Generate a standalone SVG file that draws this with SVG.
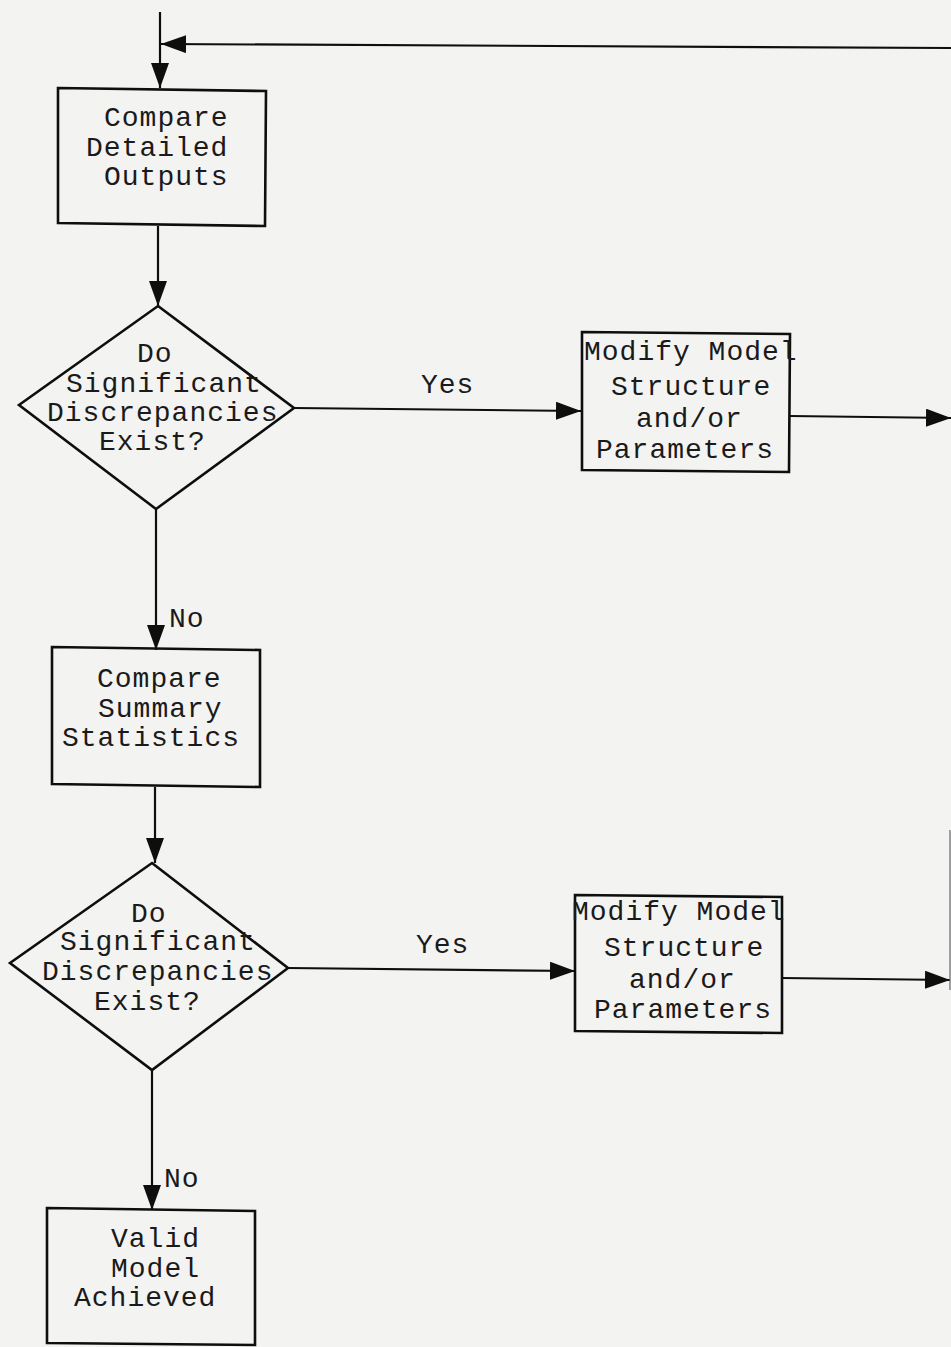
<svg xmlns="http://www.w3.org/2000/svg" width="951" height="1347" viewBox="0 0 951 1347">
<style>
.bg{fill:#f3f3f2}
.shape{fill:none;stroke:#0e0e0e;stroke-width:2.6;stroke-linejoin:miter}
.conn{fill:none;stroke:#0e0e0e;stroke-width:2.2}
.t{font-family:"Liberation Mono","DejaVu Sans Mono",monospace;font-size:28px;letter-spacing:1px;fill:#1a1a1a}
</style>
<defs>
<marker id="arr" markerUnits="userSpaceOnUse" markerWidth="26" markerHeight="20" refX="25" refY="9" orient="auto">
<path d="M0,0 L25,9 L0,18 Z" fill="#0e0e0e"/>
</marker>
</defs>
<rect class="bg" x="0" y="0" width="951" height="1347"/>
<g id="connectors">
<path class="conn" d="M160 12 V88" marker-end="url(#arr)"/>
<path class="conn" d="M951 48 L161 44" marker-end="url(#arr)"/>
<path class="conn" d="M158 226 V306" marker-end="url(#arr)"/>
<path class="conn" d="M294 408 L581 411" marker-end="url(#arr)"/>
<path class="conn" d="M790 416 L951 418" marker-end="url(#arr)"/>
<path class="conn" d="M156 509 V650" marker-end="url(#arr)"/>
<path class="conn" d="M155 787 V863" marker-end="url(#arr)"/>
<path class="conn" d="M288 968 L575 971" marker-end="url(#arr)"/>
<path class="conn" d="M782 978 L950 980" marker-end="url(#arr)"/>
<path d="M950 830 V990" fill="none" stroke="#666" stroke-width="1.2"/>
<path class="conn" d="M152 1070 V1210" marker-end="url(#arr)"/>
<text class="t" x="421" y="393">Yes</text>
<text class="t" x="416" y="953">Yes</text>
<text class="t" x="169" y="627">No</text>
<text class="t" x="164" y="1187">No</text>
</g>
<g id="compare-detailed">
<path class="shape" d="M58 88 L266 91 L265 226 L58 223 Z"/>
<text class="t" x="104" y="126">Compare</text>
<text class="t" x="86" y="156">Detailed</text>
<text class="t" x="104" y="185">Outputs</text>
</g>
<g id="decision-1">
<path class="shape" d="M158 306 L294 408 L156 509 L19 405 Z"/>
<text class="t" x="137" y="362">Do</text>
<text class="t" x="66" y="392">Significant</text>
<text class="t" x="47" y="421">Discrepancies</text>
<text class="t" x="99" y="450">Exist?</text>
</g>
<g id="modify-1">
<path class="shape" d="M582 332 L790 334 L789 472 L582 470 Z"/>
<text class="t" x="584" y="360">Modify Model</text>
<text class="t" x="611" y="395">Structure</text>
<text class="t" x="636" y="427">and/or</text>
<text class="t" x="596" y="458">Parameters</text>
</g>
<g id="compare-summary">
<path class="shape" d="M52 647 L260 650 L260 787 L52 784 Z"/>
<text class="t" x="97" y="687">Compare</text>
<text class="t" x="98" y="717">Summary</text>
<text class="t" x="62" y="746">Statistics</text>
</g>
<g id="decision-2">
<path class="shape" d="M152 863 L288 968 L152 1070 L10 963 Z"/>
<text class="t" x="131" y="922">Do</text>
<text class="t" x="60" y="950">Significant</text>
<text class="t" x="42" y="980">Discrepancies</text>
<text class="t" x="94" y="1010">Exist?</text>
</g>
<g id="modify-2">
<path class="shape" d="M575 895 L782 897 L782 1033 L575 1031 Z"/>
<text class="t" x="572" y="920">Modify Model</text>
<text class="t" x="604" y="956">Structure</text>
<text class="t" x="629" y="988">and/or</text>
<text class="t" x="594" y="1018">Parameters</text>
</g>
<g id="valid-model">
<path class="shape" d="M47 1208 L255 1211 L255 1345 L47 1343 Z"/>
<text class="t" x="111" y="1247">Valid</text>
<text class="t" x="111" y="1277">Model</text>
<text class="t" x="74" y="1306">Achieved</text>
</g>
</svg>
